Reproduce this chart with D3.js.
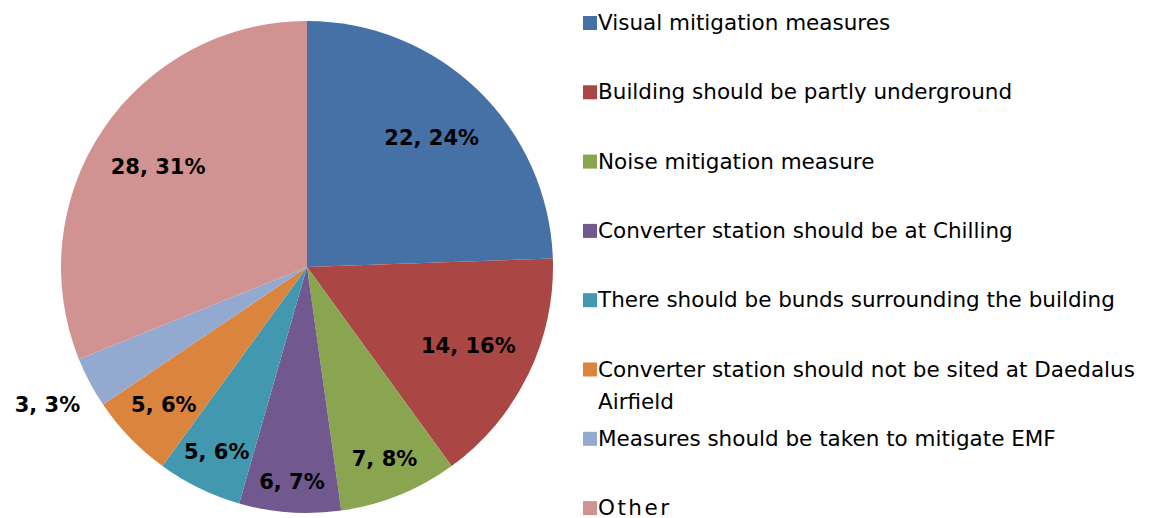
<!DOCTYPE html>
<html><head><meta charset="utf-8">
<script src="https://cdn.jsdelivr.net/npm/d3@7"></script>
<style>body{margin:0;background:#fff}svg{display:block}</style>
</head><body>
<svg id="c" width="1150" height="518"></svg>
<script>
const categories = ["Visual mitigation measures","Building should be partly underground","Noise mitigation measure","Converter station should be at Chilling","There should be bunds surrounding the building","Converter station should not be sited at Daedalus Airfield","Measures should be taken to mitigate EMF","Other"];
const values = [22,14,7,6,5,5,3,28];
const colors = ["#4571A6","#AA4644","#89A54F","#71588F","#4298AF","#DB843D","#93A9CF","#D19392"];

const W=1150,H=518, cx=307, cy=267, R=246;
const FONT='Verdana, "DejaVu Sans", sans-serif';
const svg=d3.select("#c");
const total=d3.sum(values);
const pie=d3.pie().sort(null).value(d=>d)(values);
const arc=d3.arc().innerRadius(0).outerRadius(R);
const g=svg.append("g").attr("transform",`translate(${cx},${cy})`);
g.selectAll("path").data(pie).join("path").attr("d",arc).attr("fill",(d,i)=>colors[i]);

// labels
const lg=g.append("g");
pie.forEach((d,i)=>{
  const txt=`${values[i]}, ${Math.round(values[i]/total*100)}%`;
  const t=lg.append("text").text(txt).attr("font-family",FONT).attr("font-weight","bold").attr("font-size",21)
    .attr("text-anchor","middle").attr("dominant-baseline","central").attr("fill","#000");
  const bb=t.node().getBBox();
  const w=bb.width,h=bb.height*0.75;
  const mid=(d.startAngle+d.endAngle)/2;
  const span=d.endAngle-d.startAngle;
  const ux=Math.sin(mid),uy=-Math.cos(mid);
  const far=(dist)=>{let m=0;for(const sx of[-1,1])for(const sy of[-1,1]){const x=ux*dist+sx*w/2,y=uy*dist+sy*h/2;m=Math.max(m,Math.hypot(x,y));}return m;};
  let dist=0;
  if(span>0.9){ dist=R*0.73; }
  else { while(far(dist+1)<R-16 && dist<R) dist++; }
  const inside=(dist)=>{for(const sx of[-1,1])for(const sy of[-1,1]){const x=ux*dist+sx*w/2,y=uy*dist+sy*h/2;let a=Math.atan2(x,-y);if(a<0)a+=2*Math.PI;if(a<d.startAngle-0.02||a>d.endAngle+0.02)return false;}return true;};
  if(!inside(dist)){
    const near=(dist)=>{let m=1e9;for(const sx of[-1,1])for(const sy of[-1,1]){const x=ux*dist+sx*w/2,y=uy*dist+sy*h/2;m=Math.min(m,Math.hypot(x,y));}return m;};
    dist=R; while(near(dist)<R+14) dist++;
  }
  t.attr("x",ux*dist).attr("y",uy*dist);
});

// legend
const lx=583, ly0=30, step=69.3, maxW=1150-598-4;
const leg=svg.append("g");
categories.forEach((c,i)=>{
  const y=ly0+i*step;
  leg.append("rect").attr("x",lx).attr("y",y-14).attr("width",14).attr("height",14).attr("fill",colors[i]);
  const t=leg.append("text").attr("x",598).attr("y",y).attr("font-family",FONT).attr("font-size",21.5).attr("fill","#000");
  if(c==="Other") t.attr("letter-spacing",2.5);
  const words=c.split(" ");let line=[];let ts=t.append("tspan").attr("x",598).attr("y",y);let ln=0;
  words.forEach(wd=>{line.push(wd);ts.text(line.join(" "));
    if(ts.node().getComputedTextLength()>maxW && line.length>1){line.pop();ts.text(line.join(" "));line=[wd];ln++;
      ts=t.append("tspan").attr("x",598).attr("y",y+ln*32).text(wd);}
  });
});
</script>
</body></html>
